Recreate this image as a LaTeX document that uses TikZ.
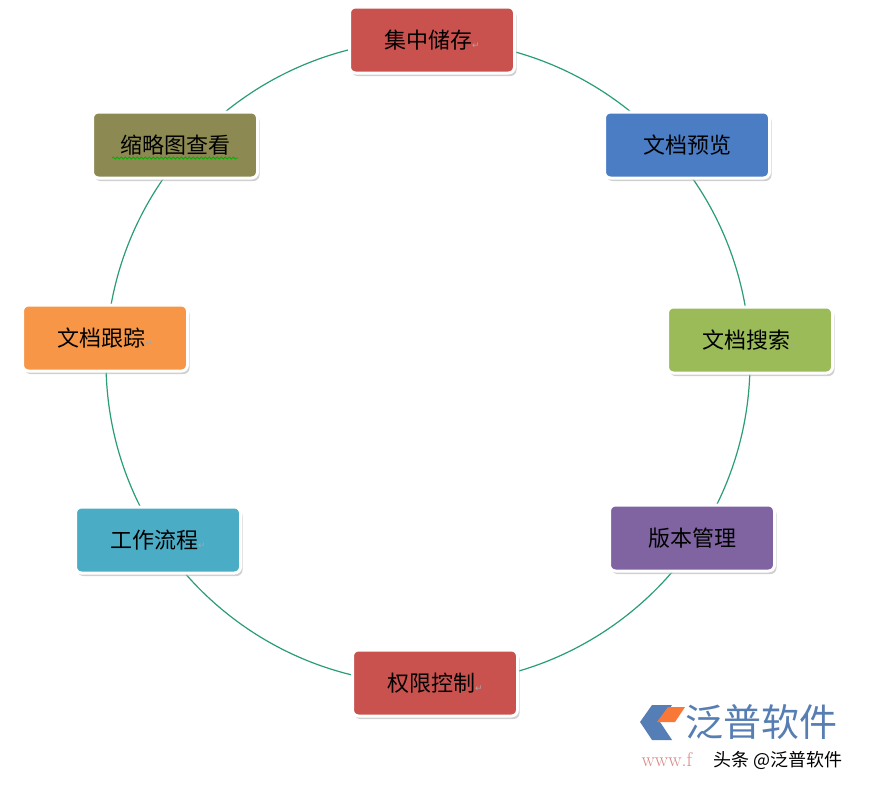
\documentclass[tikz,border=0pt]{standalone}
\usepackage{fontspec}
\newfontfamily\cjk{Noto Sans CJK SC}
\newfontfamily\dv{DejaVu Sans}
\usetikzlibrary{decorations.pathmorphing,shadows}
\definecolor{cred}{HTML}{C9524F}
\definecolor{colive}{HTML}{8C8A52}
\definecolor{cblue}{HTML}{4A7DC4}
\definecolor{corange}{HTML}{F79646}
\definecolor{cgreen}{HTML}{9BBB59}
\definecolor{cteal}{HTML}{4BACC6}
\definecolor{cpurple}{HTML}{8064A2}
\definecolor{ring}{HTML}{2A9D72}
\newcommand{\retmark}{{\dv\fontsize{9}{9}\selectfont\color{gray!70}↵}}
\tikzset{
  box/.style={draw=white,line width=3pt,rounded corners=6pt,minimum width=165pt,minimum height=66pt,
    font=\cjk\fontsize{22}{24}\selectfont,text=black,
    drop shadow={shadow xshift=2pt,shadow yshift=-3pt,fill=black!30,opacity=0.6}}
}
\begin{document}
\begin{tikzpicture}[x=1pt,y=-1pt]
\useasboundingbox[fill=white] (0,0) rectangle (896,790);
\draw[ring,line width=1.2pt] (428,362) circle (322);
\node[box,fill=cred] (a) at (432,40) {集中储存\retmark};
\node[box,fill=cblue] (b) at (687,145) {文档预览};
\node[box,fill=cgreen] (c) at (750,340) {文档搜索\retmark};
\node[box,fill=cpurple] (d) at (692,538) {版本管理};
\node[box,fill=cred] (e) at (435,683) {权限控制\retmark};
\node[box,fill=cteal] (f) at (158,540) {工作流程\retmark};
\node[box,fill=corange] (g) at (105,338) {文档跟踪\retmark};
\node[box,fill=colive] (h) at (175,145) {缩略图查看};
\draw[green!70!black,line width=0.8pt,decorate,decoration={snake,amplitude=1pt,segment length=4pt}] (112,158) -- (238,158);
% logo
\fill[cblue!80!gray] (640,722) -- (652,705) -- (672,705) -- (660,722) -- (672,740) -- (652,740) -- cycle;
\fill[corange!80!red] (657,722) -- (668,707) -- (685,707) -- (675,722) -- cycle;
\node[font=\cjk\fontsize{38}{40}\selectfont,text=cblue!75!gray,anchor=west] (logo) at (682,722) {泛普软件};
\node[font=\rmfamily\fontsize{20}{20}\selectfont,text=cred!70,anchor=west] (www) at (638,760) {www.f};
\node[font=\cjk\fontsize{18}{20}\selectfont,text=black,anchor=west] (wm) at (710,760) {头条 @泛普软件};
\end{tikzpicture}
\end{document}
